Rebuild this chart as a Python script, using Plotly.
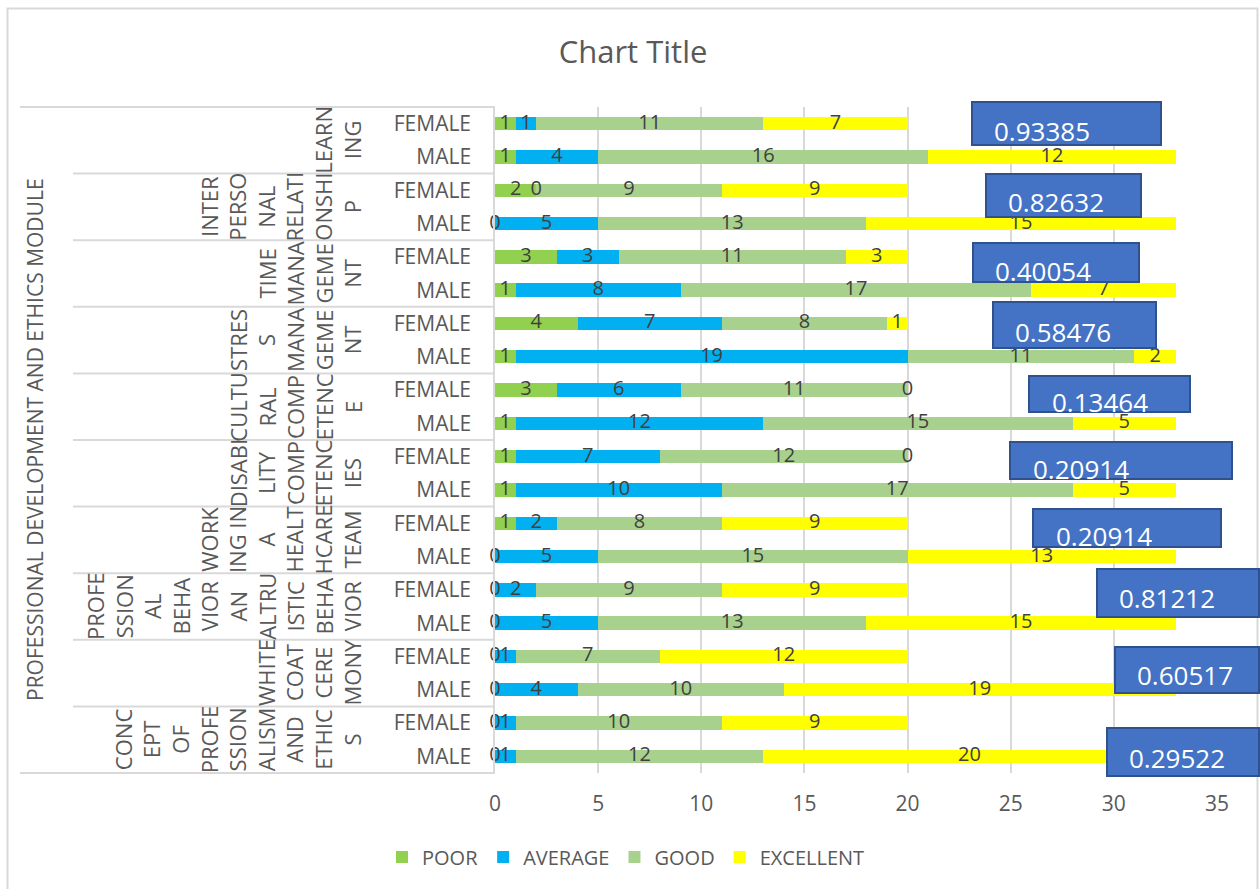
import plotly.graph_objects as go

# ---------------- data ----------------
module_name = "PROFESSIONAL DEVELOPMENT AND ETHICS MODULE"
topics = [
    "LEARNING",
    "INTERPERSONAL RELATIONSHIP",
    "TIME MANAGEMENT",
    "STRESS MANAGEMENT",
    "CULTURAL COMPETENCE",
    "DISABILITY COMPETENCIES",
    "WORKING IN A HEALTHCARE TEAM",
    "PROFESSIONAL BEHAVIOR AN ALTRUISTIC BEHAVIOR",
    "WHITE COAT CEREMONY",
    "CONCEPT OF PROFESSIONALISM AND ETHICS",
]
# topic labels wrapped as they appear in the reference
topic_wrapped = [
    ["LEARN", "ING"],
    ["INTER", "PERSO", "NAL", "RELATI", "ONSHI", "P"],
    ["TIME", "MANA", "GEME", "NT"],
    ["STRES", "S", "MANA", "GEME", "NT"],
    ["CULTU", "RAL", "COMP", "ETENC", "E"],
    ["DISABI", "LITY", "COMP", "ETENC", "IES"],
    ["WORK", "ING IN", "A", "HEALT", "HCARE", "TEAM"],
    ["PROFE", "SSION", "AL", "BEHA", "VIOR", "AN", "ALTRU", "ISTIC", "BEHA", "VIOR"],
    ["WHITE", "COAT", "CERE", "MONY"],
    ["CONC", "EPT", "OF", "PROFE", "SSION", "ALISM", "AND", "ETHIC", "S"],
]
genders = ["FEMALE", "MALE"]
series_names = ["POOR", "AVERAGE", "GOOD", "EXCELLENT"]

# order: per topic FEMALE then MALE (top to bottom)
poor      = [1, 1, 2, 0, 3, 1, 4, 1, 3, 1, 1, 1, 1, 0, 0, 0, 0, 0, 0, 0]
average   = [1, 4, 0, 5, 3, 8, 7, 19, 6, 12, 7, 10, 2, 5, 2, 5, 1, 4, 1, 1]
good      = [11, 16, 9, 13, 11, 17, 8, 11, 11, 15, 12, 17, 8, 15, 9, 13, 7, 10, 10, 12]
excellent = [7, 12, 9, 15, 3, 7, 1, 2, 0, 5, 0, 5, 9, 13, 9, 15, 12, 19, 9, 20]

box_values = [0.93385, 0.82632, 0.40054, 0.58476, 0.13464,
              0.20914, 0.20914, 0.81212, 0.60517, 0.29522]

# ---------------- style ----------------
colors = ["#92D050", "#00B0F0", "#A9D18E", "#FFFF00"]
FONT = "Open Sans"
GREY = "#595959"
LABEL = "#404040"
LINE = "#D9D9D9"

W, H = 1260, 889
L, R, T, B = 495, 1217, 107, 773


def px(x):
    return (x - L) / (R - L)


def py(y):
    return (B - y) / (B - T)


categories = [f"{t} | {g}" for t in topics for g in genders]
tick_text = [g for t in topics for g in genders]

fig = go.Figure()
series = [poor, average, good, excellent]
for name, vals, col in zip(series_names, series, colors):
    fig.add_trace(go.Bar(
        name=name, y=categories, x=vals, orientation="h",
        marker=dict(color=col, line=dict(width=0)),
    ))

# data labels centred in each segment (zero segments included, as in Excel)
left = [0] * len(categories)
for name, vals in zip(series_names, series):
    mids = [l + v / 2 for l, v in zip(left, vals)]
    fig.add_trace(go.Scatter(
        x=mids, y=categories, mode="text", text=[str(v) for v in vals],
        textposition="middle center",
        textfont=dict(family=FONT, size=20, color=LABEL),
        showlegend=False, hoverinfo="skip", cliponaxis=False,
    ))
    left = [l + v for l, v in zip(left, vals)]

shapes = []
annotations = []

# outer chart frame
shapes.append(dict(type="rect", xref="paper", yref="paper",
                   x0=px(7.5), x1=px(1257.5), y0=py(8.5), y1=py(900),
                   line=dict(color=LINE, width=2), fillcolor="rgba(0,0,0,0)",
                   layer="below"))
# category table lines
n = len(topics)
for k in range(n + 1):
    yk = 1 - k / n
    x0 = px(20) if k in (0, n) else px(73)
    shapes.append(dict(type="line", xref="paper", yref="paper",
                       x0=x0, x1=0, y0=yk, y1=yk,
                       line=dict(color=LINE, width=2)))

# topic labels (rotated, wrapped)
for i, lines in enumerate(topic_wrapped):
    yc = 1 - (i + 0.5) / n
    annotations.append(dict(
        xref="paper", yref="paper", x=px(369), y=yc,
        xanchor="right", yanchor="middle", textangle=-90, align="center",
        text="<br>".join(lines), showarrow=False,
        font=dict(family=FONT, size=22, color=GREY)))

# module label
annotations.append(dict(
    xref="paper", yref="paper", x=px(35), y=0.5,
    xanchor="center", yanchor="middle", textangle=-90,
    text=module_name, showarrow=False,
    font=dict(family=FONT, size=21, color=GREY)))

# blue value boxes: (x0, y0, x1, y1, text-left, text-centre-y) in pixels
box_geom = [
    (972, 102, 1161, 145, 992, 131),
    (986, 174, 1141, 217, 1006, 202),
    (973, 243, 1139, 282, 993, 271),
    (993, 302, 1156, 348, 1013, 332),
    (1029, 376, 1190, 412, 1050, 402),
    (1010, 442, 1232, 479, 1031, 469),
    (1033, 509, 1221, 547, 1054, 536),
    (1097, 569, 1259, 617, 1117, 598),
    (1115, 647, 1259, 693, 1135, 675),
    (1107, 728, 1259, 776, 1127, 758),
]
for v, (x0, y0, x1, y1, tx, ty) in zip(box_values, box_geom):
    shapes.append(dict(type="rect", xref="paper", yref="paper",
                       x0=px(x0), x1=px(x1), y0=py(y1), y1=py(y0),
                       fillcolor="#4472C4", line=dict(color="#2F528F", width=2),
                       layer="above"))
    annotations.append(dict(
        xref="paper", yref="paper", x=px(tx), y=py(ty),
        xanchor="left", yanchor="middle", text=f"{v:.5f}", showarrow=False,
        font=dict(family=FONT, size=26, color="white")))

fig.update_layout(
    template="none",
    width=W, height=H, autosize=False,
    margin=dict(l=L, r=W - R, t=T, b=H - B, pad=0),
    paper_bgcolor="white", plot_bgcolor="white",
    barmode="stack", bargap=0.6,
    title=dict(text="Chart Title", x=633 / W, xref="container", xanchor="center",
               y=1 - 52 / H, yref="container", yanchor="middle",
               font=dict(family=FONT, size=31, color=GREY)),
    font=dict(family=FONT, color=GREY),
    xaxis=dict(range=[0, 35], dtick=5, tick0=0, showgrid=True,
               gridcolor=LINE, gridwidth=1.5, zeroline=False,
               showline=False, ticks="outside", ticklen=12,
               tickcolor="rgba(0,0,0,0)",
               tickfont=dict(family=FONT, size=21, color=GREY),
               automargin=False, fixedrange=True),
    yaxis=dict(type="category", categoryorder="array", categoryarray=categories,
               range=[len(categories) - 0.5, -0.5],
               tickvals=categories, ticktext=tick_text,
               showgrid=False, zeroline=False, showline=True,
               linecolor=LINE, linewidth=1.5, ticks="outside", ticklen=18,
               tickcolor="rgba(0,0,0,0)",
               tickfont=dict(family=FONT, size=21, color=GREY),
               automargin=False, fixedrange=True),
    legend=dict(orientation="h", x=px(382), xanchor="left",
                y=py(857), yanchor="middle", traceorder="normal",
                font=dict(family=FONT, size=20, color=GREY),
                bgcolor="rgba(0,0,0,0)"),
    shapes=shapes,
    annotations=annotations,
    showlegend=True,
)

fig.write_html("out.html")
